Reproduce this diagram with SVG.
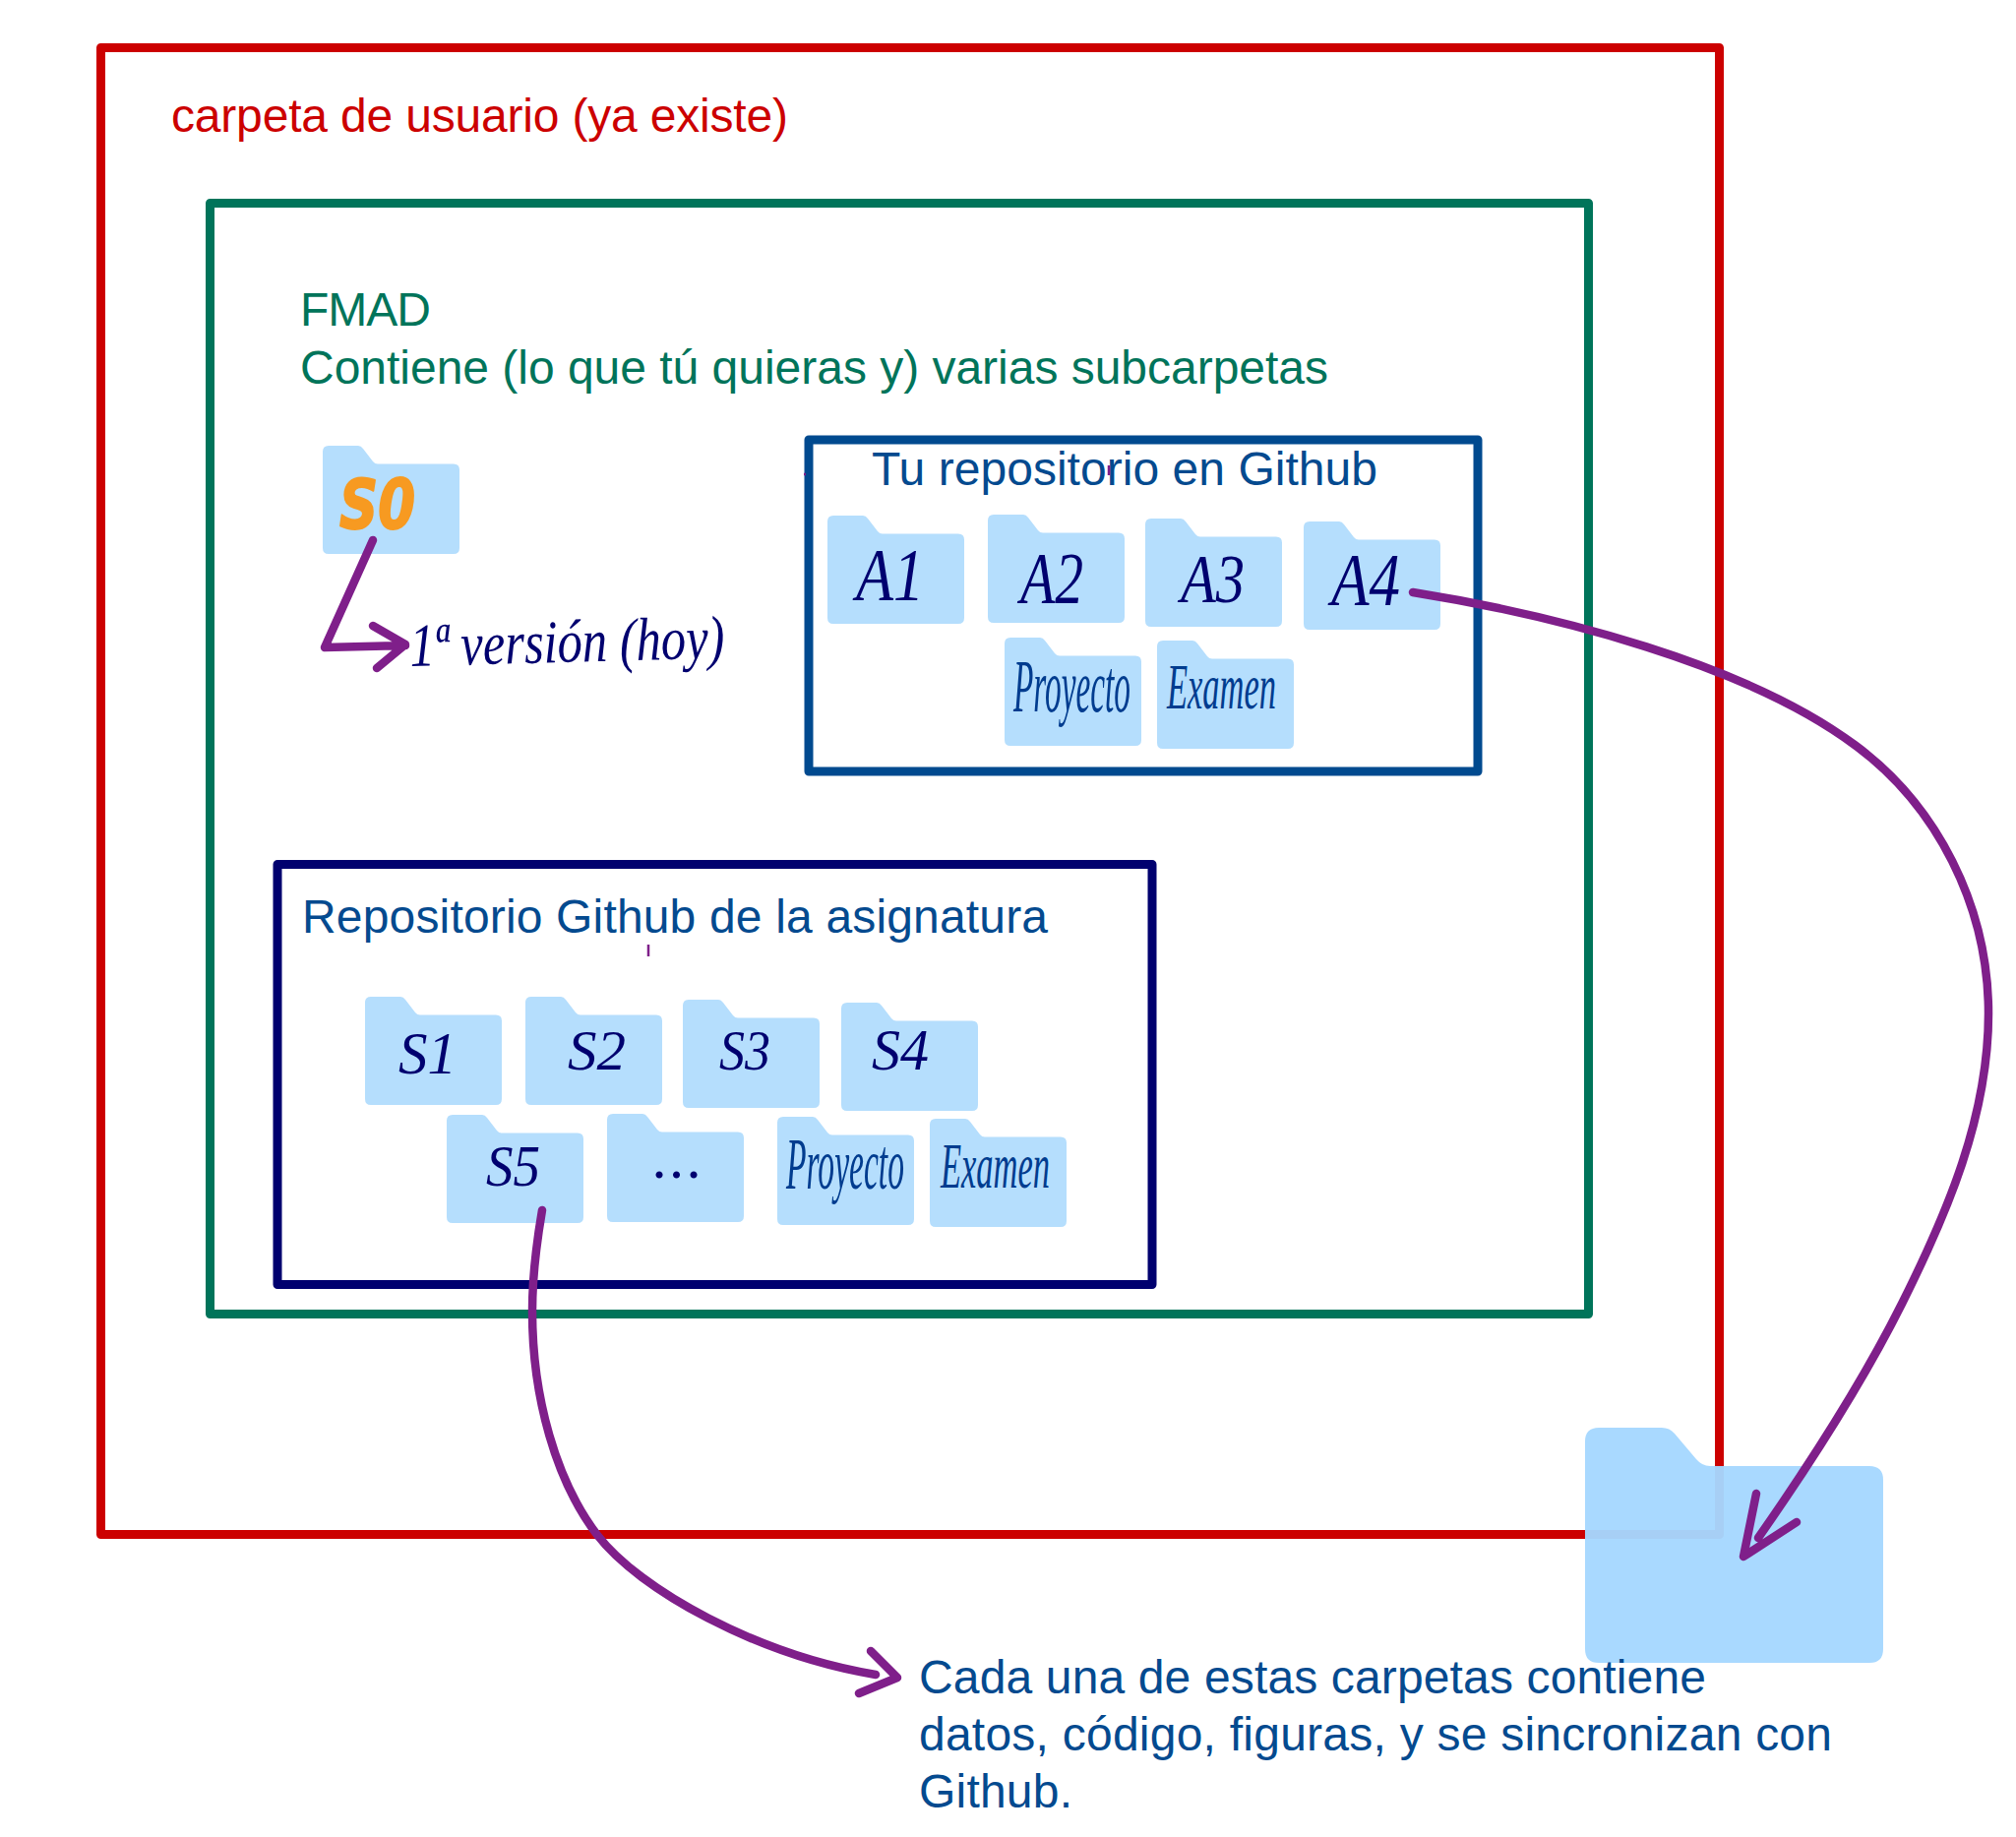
<svg xmlns="http://www.w3.org/2000/svg" width="2049" height="1867" viewBox="0 0 2049 1867">
<style>
.box{fill:none;stroke-linejoin:round;stroke-width:9}
.t{font-family:"Liberation Sans",Arial,sans-serif;font-size:48px}
.blue{fill:#044a8f}
.h{font-family:"Liberation Serif","Times New Roman",serif;font-style:italic;fill:#00006f}
.hb{fill:#003c8f}
.arrow{fill:none;stroke:#7f1f8a;stroke-width:8.500;stroke-linecap:round;stroke-linejoin:round}
.mark{fill:none;stroke:#7f1f8a;stroke-width:2.500}
.f{fill:#b5defd}
</style>
<defs>
<path id="folder" class="f" d="M6 0H36Q39 0 41 3L51 16Q53 18.500 56 18.500H133Q139 18.500 139 24.500V104Q139 110 133 110H6Q0 110 0 104V6Q0 0 6 0Z"/>
</defs>
<rect width="2049" height="1867" fill="#fff"/>
<g id="user-folder">
<rect class="box" x="102.500" y="48.500" width="1645" height="1511" stroke="#cc0000"/>
<text class="t" x="174" y="134" fill="#cc0000" textLength="627">carpeta de usuario (ya existe)</text>
</g>
<g id="fmad">
<rect class="box" x="213.500" y="206.500" width="1401" height="1129" stroke="#00745a"/>
<text class="t" x="305" y="331" fill="#00745a" textLength="133">FMAD</text>
<text class="t" x="305" y="390" fill="#00745a" textLength="1045">Contiene (lo que tú quieras y) varias subcarpetas</text>
</g>
<g id="s0">
<use href="#folder" x="328" y="453"/>
<text x="345" y="537" font-family="'DejaVu Sans',sans-serif" font-weight="700" font-style="italic" font-size="70" fill="#f79a21" stroke="#f79a21" stroke-width="2" stroke-linejoin="round" textLength="77" lengthAdjust="spacingAndGlyphs">S0</text>
</g>
<text id="version-note" class="h" x="417" y="677" font-size="62" textLength="320" lengthAdjust="spacingAndGlyphs" transform="rotate(-1.500 417 677)">1ª versión (hoy)</text>
<g id="tu-repo">
<rect class="box" x="822" y="447" width="680" height="337" stroke="#004a8f"/>
<text class="t blue" x="886" y="493" textLength="514">Tu repositorio en Github</text>
<use href="#folder" x="841" y="524"/>
<text class="h" x="870" y="610" font-size="76" textLength="69" lengthAdjust="spacingAndGlyphs">A1</text>
<use href="#folder" x="1004" y="523"/>
<text class="h" x="1037" y="613" font-size="74" textLength="64" lengthAdjust="spacingAndGlyphs">A2</text>
<use href="#folder" x="1164" y="527"/>
<text class="h" x="1200" y="612" font-size="70" textLength="65" lengthAdjust="spacingAndGlyphs">A3</text>
<use href="#folder" x="1325" y="530"/>
<text class="h" x="1353" y="615" font-size="76" textLength="70" lengthAdjust="spacingAndGlyphs">A4</text>
<use href="#folder" x="1021" y="648"/>
<text class="h hb" x="1030" y="723" font-size="76" textLength="119" lengthAdjust="spacingAndGlyphs">Proyecto</text>
<use href="#folder" x="1176" y="651"/>
<text class="h hb" x="1186" y="720" font-size="66" textLength="111" lengthAdjust="spacingAndGlyphs">Examen</text>
</g>
<g id="repo-asignatura">
<rect class="box" x="282" y="878.500" width="889" height="427" stroke="#00006f"/>
<text class="t blue" x="307" y="948" textLength="758">Repositorio Github de la asignatura</text>
<use href="#folder" x="371" y="1013"/>
<text class="h" x="405" y="1091" font-size="62" textLength="59" lengthAdjust="spacingAndGlyphs">S1</text>
<use href="#folder" x="534" y="1013"/>
<text class="h" x="577" y="1087" font-size="58" textLength="59" lengthAdjust="spacingAndGlyphs">S2</text>
<use href="#folder" x="694" y="1016"/>
<text class="h" x="731" y="1087" font-size="58" textLength="52" lengthAdjust="spacingAndGlyphs">S3</text>
<use href="#folder" x="855" y="1019"/>
<text class="h" x="886" y="1087" font-size="60" textLength="58" lengthAdjust="spacingAndGlyphs">S4</text>
<use href="#folder" x="454" y="1133"/>
<text class="h" x="494" y="1205" font-size="60" textLength="55" lengthAdjust="spacingAndGlyphs">S5</text>
<use href="#folder" x="617" y="1132"/>
<text class="h" x="664" y="1197" font-size="60" textLength="50" lengthAdjust="spacing">...</text>
<use href="#folder" x="790" y="1135"/>
<text class="h hb" x="799" y="1208" font-size="74" textLength="120" lengthAdjust="spacingAndGlyphs">Proyecto</text>
<use href="#folder" x="945" y="1137"/>
<text class="h hb" x="956" y="1207" font-size="66" textLength="111" lengthAdjust="spacingAndGlyphs">Examen</text>
</g>
<g id="big-folder">
<path fill="#a6d7ff" fill-opacity=".96" d="M1625 1451H1689Q1697 1451 1702 1457L1724 1483Q1730 1490 1738 1490H1900Q1914 1490 1914 1504V1676Q1914 1690 1900 1690H1625Q1611 1690 1611 1676V1465Q1611 1451 1625 1451Z"/>
</g>
<g id="note">
<text class="t blue" x="934" y="1721" textLength="800">Cada una de estas carpetas contiene</text>
<text class="t blue" x="934" y="1779" textLength="928">datos, código, figuras, y se sincronizan con</text>
<text class="t blue" x="934" y="1837" textLength="156">Github.</text>
</g>
<g id="connectors">
<path class="arrow" d="M379 549L330 658L412 656M379 636L412 655L383 679"/>
<path class="arrow" d="M1436 602C1580 625 1775 675 1885 757C1968 818 2021 920 2021 1030C2021 1135 1979 1233 1933 1325C1895 1401 1845 1480 1787 1563M1785 1518L1772 1582L1826 1547"/>
<path class="arrow" d="M551 1230C545 1265 541 1300 541 1333C541 1420 565 1505 607 1560C650 1616 770 1682 890 1702M885 1678L912 1705L873 1721"/>
<path class="mark" d="M659 960V972M1127 473V483M817 482H819"/>
</g>
</svg>
